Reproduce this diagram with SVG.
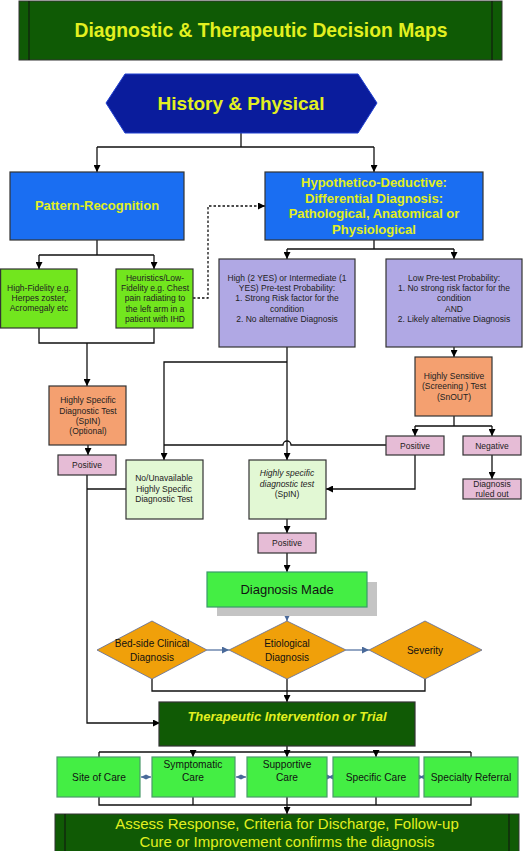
<svg xmlns="http://www.w3.org/2000/svg" width="523" height="851" viewBox="0 0 523 851">
<defs>
<marker id="ah" viewBox="0 0 10 10" refX="10" refY="5" markerWidth="7" markerHeight="7" markerUnits="userSpaceOnUse" orient="auto"><path d="M0,0 L10,5 L0,10 z" fill="#000"/></marker>
<marker id="bh" viewBox="0 0 10 10" refX="10" refY="5" markerWidth="7" markerHeight="7" markerUnits="userSpaceOnUse" orient="auto"><path d="M0,0 L10,5 L0,10 z" fill="#4a6a9a"/></marker>
<marker id="bs" viewBox="0 0 10 10" refX="10" refY="5" markerWidth="5" markerHeight="6" markerUnits="userSpaceOnUse" orient="auto-start-reverse"><path d="M0,0 L10,5 L0,10 z" fill="#4a6a9a"/></marker>
</defs>
<style>
text{font-family:"Liberation Sans",Arial,sans-serif;text-anchor:middle;dominant-baseline:central}
.ttl{font-weight:bold;fill:#e2f020}
.n{font-size:8.5px;fill:#222}
.line{fill:none;stroke:#111;stroke-width:1.3}
.arr{marker-end:url(#ah)}
.blue{fill:none;stroke:#4a6a9a;stroke-width:1.2}
.bord{stroke:#333;stroke-width:1.2}
</style>
<rect width="523" height="851" fill="#fff"/>

<g id="connectors">
<path class="line" d="M241,133 V147 M97,147 H374"/>
<path class="line arr" d="M97,147 V172"/>
<path class="line arr" d="M374,147 V172"/>
<path class="line" d="M97,240 V255 M39,255 H154"/>
<path class="line arr" d="M39,255 V269"/>
<path class="line arr" d="M154,255 V269"/>
<path class="line arr" d="M193,298 H208 V206 H265" stroke-dasharray="2.5,2"/>
<path class="line" d="M374,240 V249 M287,249 H454"/>
<path class="line arr" d="M287,249 V259"/>
<path class="line arr" d="M454,249 V259"/>
<path class="line" d="M39,328 V343 H154 V328"/>
<path class="line arr" d="M87,343 V386"/>
<path class="line arr" d="M88,445 V455"/>
<path class="line arr" d="M87,475 V723 H160"/>
<path class="line" d="M87,489 H126"/>
<path class="line arr" d="M287,347 V460"/>
<path class="line arr" d="M287,362 H164 V460"/>
<path class="line" d="M386,445 H291 A4,4 0 0 0 283,445 H164"/>
<path class="line arr" d="M454,347 V357"/>
<path class="line" d="M454,416 V426 M415,426 H492"/>
<path class="line arr" d="M415,426 V436"/>
<path class="line arr" d="M492,426 V436"/>
<path class="line arr" d="M492,455 V479"/>
<path class="line arr" d="M415,455 V489 H326"/>
<path class="line arr" d="M287,519 V533"/>
<path class="line arr" d="M287,553 V572"/>
<path class="blue" d="M287,607 V621" marker-end="url(#bh)"/>
<path class="blue" d="M207,650 H229" marker-end="url(#bh)"/>
<path class="blue" d="M346,650 H369" marker-end="url(#bh)"/>
<path class="line" d="M152,679 V691 H425 V679"/>
<path class="line arr" d="M287,679 V702"/>
<path class="line" d="M287,746 V752 M99,752 H471 M99,752 V757 M471,752 V757"/>
<path class="line arr" d="M193,752 V757"/>
<path class="line arr" d="M287,752 V757"/>
<path class="line arr" d="M376,752 V757"/>
<path class="blue" d="M141,777 H151" marker-start="url(#bs)" marker-end="url(#bs)"/>
<path class="blue" d="M236,777 H246" marker-start="url(#bs)" marker-end="url(#bs)"/>
<path class="blue" d="M328,777 H332" marker-start="url(#bs)" marker-end="url(#bs)"/>
<path class="blue" d="M419.5,777 H423.5" marker-start="url(#bs)" marker-end="url(#bs)"/>
<path class="line" d="M99,797 V805 H471 V797 M193,797 V805 M376,797 V805"/>
<path class="line arr" d="M287,797 V814"/>
</g>

<g id="title">
<rect x="19" y="1" width="483" height="59" fill="#0f5a05" stroke="#333" stroke-width="1"/>
<path d="M29,1 V60 M492,1 V60" stroke="#111" stroke-width="1"/>
<text class="ttl" x="261" y="30" font-size="19.3">Diagnostic &amp; Therapeutic Decision Maps</text>
</g>

<g id="history">
<polygon points="106,103 125,74 358,74 377,103 358,133 125,133" fill="#0a1c9c" stroke="#2040d0" stroke-width="1"/>
<text class="ttl" x="241" y="103" font-size="19">History &amp; Physical</text>
</g>

<g id="pattern">
<rect x="10" y="172" width="174" height="68" fill="#1a6ef2" class="bord"/>
<text class="ttl" x="97" y="205" font-size="13">Pattern-Recognition</text>
</g>

<g id="hypothetico">
<rect x="265" y="172" width="218" height="68" fill="#1a6ef2" class="bord"/>
<text class="ttl" font-size="13"><tspan x="374" y="182">Hypothetico-Deductive:</tspan><tspan x="374" y="197.5">Differential Diagnosis:</tspan><tspan x="374" y="213">Pathological, Anatomical or</tspan><tspan x="374" y="229">Physiological</tspan></text>
</g>

<g id="highfidelity">
<rect x="0.6" y="269" width="76.4" height="59" fill="#72e61e" class="bord"/>
<text class="n"><tspan x="39" y="288">High-Fidelity e.g.</tspan><tspan x="39" y="298">Herpes zoster,</tspan><tspan x="39" y="308">Acromegaly etc</tspan></text>
</g>

<g id="heuristics">
<rect x="116" y="269" width="77" height="59" fill="#72e61e" class="bord"/>
<text class="n"><tspan x="155" y="278">Heuristics/Low-</tspan><tspan x="155" y="288">Fidelity e.g. Chest</tspan><tspan x="155" y="298">pain radiating to</tspan><tspan x="155" y="308.5">the left arm in a</tspan><tspan x="155" y="319">patient with IHD</tspan></text>
</g>

<g id="highprob">
<rect x="219" y="259" width="136" height="88" fill="#b0a8e4" class="bord"/>
<text class="n"><tspan x="287" y="278">High (2 YES) or Intermediate (1</tspan><tspan x="287" y="288">YES)  Pre-test Probability:</tspan><tspan x="287" y="298">1. Strong Risk factor for the</tspan><tspan x="287" y="308.5">condition</tspan><tspan x="287" y="319">2. No alternative Diagnosis</tspan></text>
</g>

<g id="lowprob">
<rect x="386" y="259" width="136" height="88" fill="#b0a8e4" class="bord"/>
<text class="n"><tspan x="454" y="278">Low Pre-test Probability:</tspan><tspan x="454" y="288">1.  No strong risk factor for the</tspan><tspan x="454" y="298">condition</tspan><tspan x="454" y="308.5">AND</tspan><tspan x="454" y="319">2. Likely alternative Diagnosis</tspan></text>
</g>

<g id="spinoptional">
<rect x="49" y="386" width="77" height="59" fill="#f4a070" class="bord"/>
<text class="n"><tspan x="88" y="400">Highly Specific</tspan><tspan x="88" y="410.5">Diagnostic Test</tspan><tspan x="88" y="421">(SpIN)</tspan><tspan x="88" y="431">(Optional)</tspan></text>
</g>

<g id="positive1">
<rect x="58" y="455" width="58" height="20" fill="#e6bcd6" class="bord"/>
<text class="n" x="87" y="465">Positive</text>
</g>

<g id="snout">
<rect x="415" y="357" width="77" height="59" fill="#f4a070" class="bord"/>
<text class="n"><tspan x="454" y="376">Highly Sensitive</tspan><tspan x="454" y="386">(Screening ) Test</tspan><tspan x="454" y="397">(SnOUT)</tspan></text>
</g>

<g id="positive2">
<rect x="386" y="436" width="58" height="19" fill="#e6bcd6" class="bord"/>
<text class="n" x="415" y="445.5">Positive</text>
</g>

<g id="negative">
<rect x="463" y="436" width="58" height="19" fill="#e6bcd6" class="bord"/>
<text class="n" x="492" y="445.5">Negative</text>
</g>

<g id="ruledout">
<rect x="463" y="479" width="58" height="20" fill="#e6bcd6" class="bord"/>
<text class="n"><tspan x="492" y="484">Diagnosis</tspan><tspan x="492" y="494">ruled out</tspan></text>
</g>

<g id="nounavailable">
<rect x="126" y="460" width="77" height="59" fill="#e2f8d4" class="bord"/>
<text class="n"><tspan x="164" y="478">No/Unavailable</tspan><tspan x="164" y="488.5">Highly Specific</tspan><tspan x="164" y="499">Diagnostic Test</tspan></text>
</g>

<g id="spin">
<rect x="249" y="460" width="77" height="59" fill="#e2f8d4" class="bord"/>
<text class="n"><tspan x="287" y="473" font-style="italic">Highly specific</tspan><tspan x="287" y="483.5" font-style="italic">diagnostic test</tspan><tspan x="287" y="494">(SpIN)</tspan></text>
</g>

<g id="positive3">
<rect x="258" y="533" width="58" height="20" fill="#e6bcd6" class="bord"/>
<text class="n" x="287" y="543">Positive</text>
</g>

<g id="diagnosismade">
<rect x="217" y="582" width="160" height="34" fill="#c4c4c4"/>
<rect x="207" y="572" width="160" height="35" fill="#44ee44" stroke="#3a9a6a" stroke-width="1.2"/>
<text x="287" y="589" font-size="13" fill="#111">Diagnosis Made</text>
</g>

<g id="bedside">
<polygon points="97,650 152,621 207,650 152,679" fill="#f0a00a" stroke="#5a6a9a" stroke-width="0.8"/>
<text font-size="10" fill="#111"><tspan x="152" y="643">Bed-side Clinical</tspan><tspan x="152" y="656.5">Diagnosis</tspan></text>
</g>

<g id="etiological">
<polygon points="229,650 287,621 346,650 287,679" fill="#f0a00a" stroke="#5a6a9a" stroke-width="0.8"/>
<text font-size="10" fill="#111"><tspan x="287" y="643">Etiological</tspan><tspan x="287" y="656.5">Diagnosis</tspan></text>
</g>

<g id="severity">
<polygon points="369,650 425,621 482,650 425,679" fill="#f0a00a" stroke="#5a6a9a" stroke-width="0.8"/>
<text font-size="10" fill="#111" x="425" y="650">Severity</text>
</g>

<g id="therapeutic">
<rect x="159" y="702" width="256" height="44" fill="#105a05" class="bord"/>
<text class="ttl" x="287" y="716" font-size="13" font-style="italic">Therapeutic Intervention or Trial</text>
</g>

<g id="siteofcare">
<rect x="57" y="757" width="83" height="40" fill="#44ee44" stroke="#4a9a6a" stroke-width="1.2"/>
<text font-size="10.2" fill="#111" x="99" y="777">Site of Care</text>
</g>
<g id="symptomatic">
<rect x="152" y="757" width="83" height="40" fill="#44ee44" stroke="#4a9a6a" stroke-width="1.2"/>
<text font-size="10.2" fill="#111"><tspan x="193" y="763.5">Symptomatic</tspan><tspan x="193" y="777">Care</tspan></text>
</g>
<g id="supportive">
<rect x="247" y="757" width="80" height="40" fill="#44ee44" stroke="#4a9a6a" stroke-width="1.2"/>
<text font-size="10.2" fill="#111"><tspan x="287" y="763.5">Supportive</tspan><tspan x="287" y="777">Care</tspan></text>
</g>
<g id="specific">
<rect x="333" y="757" width="86" height="40" fill="#44ee44" stroke="#4a9a6a" stroke-width="1.2"/>
<text font-size="10.2" fill="#111" x="376" y="777">Specific Care</text>
</g>
<g id="specialty">
<rect x="424" y="757" width="94" height="40" fill="#44ee44" stroke="#4a9a6a" stroke-width="1.2"/>
<text font-size="10.2" fill="#111" x="471" y="777">Specialty Referral</text>
</g>

<g id="assess">
<rect x="55" y="814" width="464" height="40" fill="#105a05" stroke="#333" stroke-width="1"/>
<path d="M65,814 V851 M509,814 V851" stroke="#111" stroke-width="1"/>
<text fill="#e2f020" font-size="15"><tspan x="287" y="823">Assess Response, Criteria for Discharge, Follow-up</tspan><tspan x="287" y="841">Cure or Improvement confirms the diagnosis</tspan></text>
</g>
</svg>
